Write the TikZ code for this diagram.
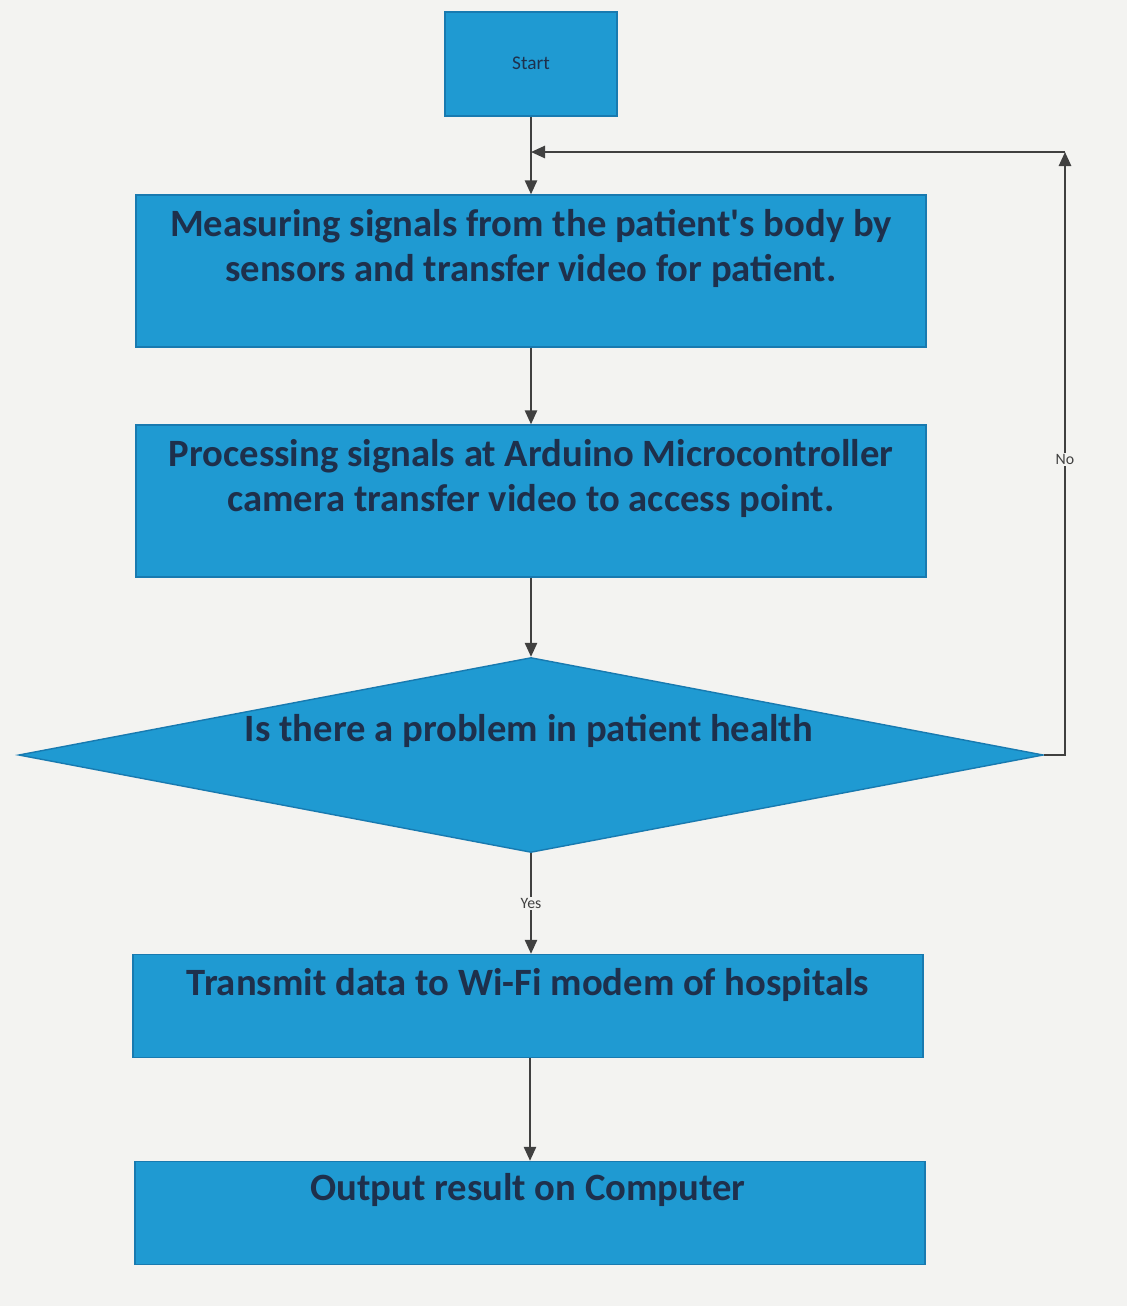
\documentclass[tikz,border=0pt]{standalone}
\usepackage{fontspec}
\setmainfont{Carlito}
\usetikzlibrary{arrows.meta,shapes.geometric,positioning}
\definecolor{BoxBlue}{RGB}{31,154,210}
\definecolor{EdgeBlue}{RGB}{24,122,176}
\definecolor{InkNavy}{RGB}{30,48,76}
\definecolor{LineGray}{RGB}{64,64,64}
\definecolor{PaperGray}{RGB}{243,243,241}

\begin{document}
\begin{tikzpicture}[
      x=0.02cm, y=-0.02cm,
      Box/.style={
        rectangle, fill=BoxBlue, draw=EdgeBlue, line width=0.8pt,
        minimum width=15.8cm, inner sep=0pt,
      },
      Decision/.style={
        diamond, fill=BoxBlue, draw=EdgeBlue, line width=0.8pt,
        minimum width=20.5cm, minimum height=3.9cm, inner sep=0pt,
      },
      Txt/.style={
        text=InkNavy, font=\fontsize{22}{25.6}\selectfont\bfseries,
        align=center,
      },
      Tiny/.style={
        text=LineGray, font=\fontsize{9}{10}\selectfont,
        fill=PaperGray, inner sep=1pt,
      },
      Flow/.style={
        draw=LineGray, line width=1.1pt,
        -{Triangle[length=8pt,width=7pt]},
      },
      ]
      \fill[PaperGray] (0,0) rectangle (1127,1306);
      \useasboundingbox (0,0) rectangle (1127,1306);

      \node[Box, minimum width=3.44cm, minimum height=2.08cm] (S) at (531,64) {};
      \node[Tiny, fill=none, text=InkNavy, font=\fontsize{11}{12}\selectfont] (St) at (531,63) {Start};

      \node[Box, minimum height=3.04cm] (M) at (531,271) {};
      \node[Txt] (Mt) at (531,248) {Measuring signals from the patient\textquotesingle s body by\\sensors and transfer video for patient.};

      \node[Box, minimum height=3.04cm] (P) at (531,501) {};
      \node[Txt] (Pt) at (531,478) {Processing signals at Arduino Microcontroller\\camera transfer video to access point.};

      \node[Decision] (D) at (531,755) {};
      \node[Txt] (Dt) at (529,731) {Is there a problem in patient health};

      \node[Box, minimum height=2.06cm] (T) at (528,1006) {};
      \node[Txt] (Tt) at (528,985) {Transmit data to Wi-Fi modem of hospitals};

      \node[Box, minimum height=2.06cm] (O) at (530,1213) {};
      \node[Txt] (Ot) at (528,1190) {Output result on Computer};

      \coordinate (j) at (531,152);
      \coordinate (c1) at (1065,755);
      \coordinate (c2) at (1065,152);

      \draw[Flow] (S) -- (M);
      \draw[Flow] (M) -- (P);
      \draw[Flow] (P) -- (D.north);
      \draw[Flow] (D.south) -- (D.south |- T.north) node[Tiny, midway] (yes) {Yes};
      \draw[Flow] (T.south -| O.north) -- (O);

      % no branch back to the top
      \draw[Flow] (D.east) -- (c1) -- (c2) node[Tiny, pos=0.49] (no) {No};
      \draw[Flow] (c2) -- (j);
    \end{tikzpicture}
\end{document}
